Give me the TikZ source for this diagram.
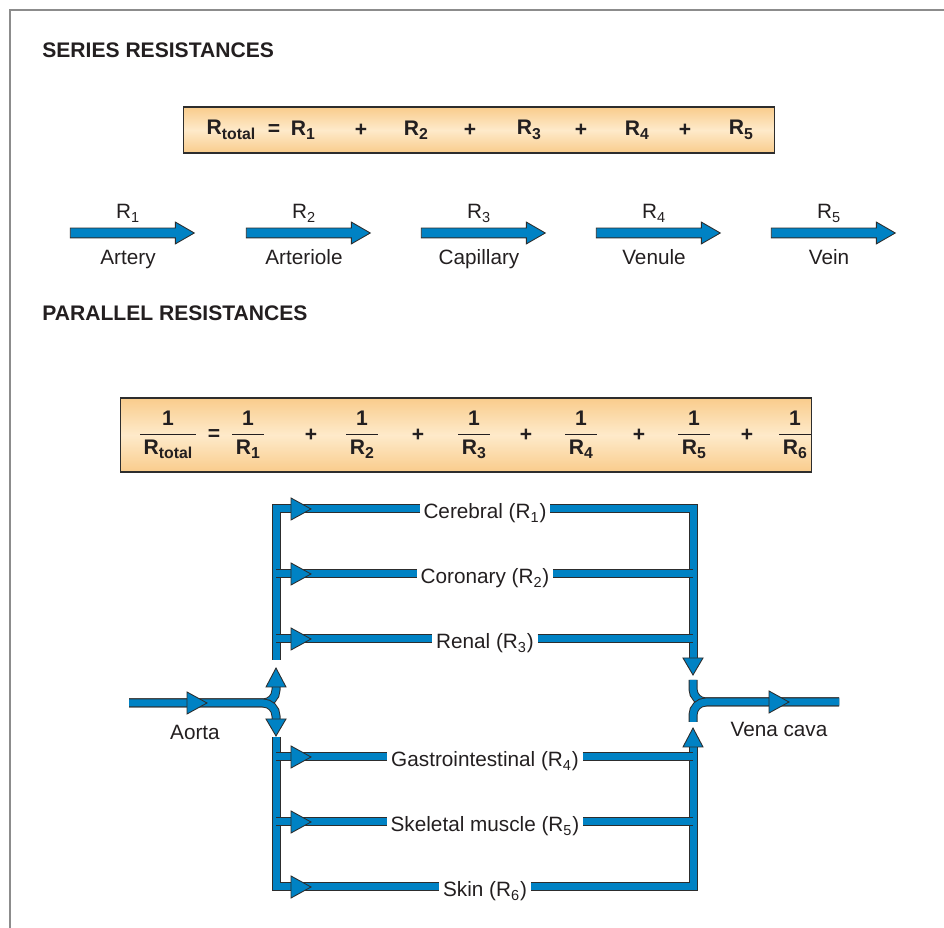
\documentclass[tikz,border=0pt]{standalone}
\usepackage{amsmath}
\usepackage{fontspec}
\setmainfont{Liberation Sans}
\usepackage{tikz}
\usetikzlibrary{shapes.arrows,positioning}
\usepackage{xcolor}
\definecolor{PipeBlue}{RGB}{0,130,196}
\definecolor{PipeEdge}{RGB}{45,45,45}
\definecolor{BoxEdge}{RGB}{249,204,140}
\definecolor{BoxMid}{RGB}{254,234,202}
\definecolor{FrameGray}{RGB}{140,140,140}
\definecolor{InkGray}{RGB}{35,31,32}

\newcommand{\pipe}[1]{\draw[pipeedge] #1; \draw[pipefill] #1;}
\newcommand{\headright}[1]{\filldraw[tipfill] (#1) ++(-10,-11) -- ++(20,11) -- ++(-20,11) -- cycle;}
\newcommand{\headup}[1]{\filldraw[tipfill] (#1) ++(-10,0) -- ++(20,0) -- ++(-10,-19) -- cycle;}
\newcommand{\headdown}[1]{\filldraw[tipfill] (#1) ++(-10,0) -- ++(20,0) -- ++(-10,17) -- cycle;}
\newcommand{\lsub}[1]{\raisebox{-0.4ex}{\fontsize{9}{9}\selectfont #1}}
\newcommand{\inv}[1]{\genfrac{}{}{0.9pt}{0}{\text{1}}{\text{\,#1\,}}}

\tikzset{
  pipeedge/.style={draw=PipeEdge,line width=0.18cm},
  pipefill/.style={draw=PipeBlue,line width=0.14cm},
  tipfill/.style={fill=PipeBlue,draw=PipeEdge,line width=0.5pt},
  flow/.style={single arrow,fill=PipeBlue,draw=PipeEdge,line width=0.5pt,
    minimum height=2.48cm,inner xsep=0pt,inner ysep=0.09cm,
    single arrow head extend=0.12cm,single arrow tip angle=60},
  lbl/.style={font=\fontsize{11.8}{14}\selectfont,text=InkGray,inner sep=0pt},
  organ/.style={lbl,inner xsep=0.07cm,text height=11.3pt,text depth=0pt},
  heading/.style={font={\bfseries\fontsize{12}{14}\selectfont},text=InkGray,anchor=west,inner sep=0pt},
  eqbox/.style={draw=PipeEdge,line width=0.6pt,top color=BoxEdge,bottom color=BoxEdge,middle color=BoxMid},
  eqterm/.style={font={\bfseries\fontsize{12}{14}\selectfont},text=InkGray,inner sep=0pt}
}

\begin{document}
\begin{tikzpicture}[x=0.02cm,y=-0.02cm]
    \useasboundingbox (0,0) rectangle (944,928);
    \draw[FrameGray,line width=1.4pt] (10,928) -- (10,10) -- (944,10);

    % series part
    \node[heading] (serhead) at (42,50) {SERIES RESISTANCES};
    \node[eqbox,minimum width=11.84cm,minimum height=0.92cm] (sumbox) at (479,130) {};
    \foreach \x/\t [count=\i] in {231/R\lsub{total},274/=,303/R\lsub{1},361/+,416/R\lsub{2},470/+,529/R\lsub{3},581/+,637/R\lsub{4},685/+,741/R\lsub{5}}
        \node[eqterm] (sterm\i) at (\x,130) {\t};

    \foreach \x/\n/\t [count=\i] in {128/artery/Artery,304/arteriole/Arteriole,479/capillary/Capillary,654/venule/Venule,829/vein/Vein} {
        \node[flow] (\n) at (\x,233) {};
        \node[lbl,anchor=base] (r\i) at (\x,219) {R\textsubscript{\i}};
        \node[lbl,anchor=base] (\n txt) at (\x,265) {\t};
    }

    % parallel part
    \node[heading] (parhead) at (42,313) {PARALLEL RESISTANCES};
    \node[eqbox,minimum width=13.84cm,minimum height=1.48cm] (invbox) at (466,435) {};
    \foreach \x/\t [count=\i] in {168/$\inv{R\lsub{total}}$,214/=,248/$\inv{R\lsub{1}}$,311/+,362/$\inv{R\lsub{2}}$,418/+,474/$\inv{R\lsub{3}}$,526/+,581/$\inv{R\lsub{4}}$,639/+,694/$\inv{R\lsub{5}}$,747/+,795/$\inv{R\lsub{6}}$}
        \node[eqterm] (pterm\i) at (\x,435) {\t};

    \node[organ] (cereb) at (485,509) {Cerebral (R\textsubscript{1})};
    \node[organ] (coron) at (485,574) {Coronary (R\textsubscript{2})};
    \node[organ] (renal) at (485,639) {Renal (R\textsubscript{3})};
    \node[organ] (gi) at (485,757) {Gastrointestinal (R\textsubscript{4})};
    \node[organ] (skel) at (485,822) {Skeletal muscle (R\textsubscript{5})};
    \node[organ] (skin) at (485,887) {Skin (R\textsubscript{6})};
    \node[lbl] (aorta) at (195,732) {Aorta};
    \node[lbl] (vcava) at (779,729) {Vena cava};

    \coordinate (aortain) at (129,703);
    \coordinate (upend) at (276,687);
    \coordinate (downend) at (276,719);
    \coordinate (lup) at (276,660);
    \coordinate (ldown) at (276,737);
    \coordinate (rdown) at (693,658);
    \coordinate (rup) at (693,747);
    \coordinate (mtop) at (693,680);
    \coordinate (mbot) at (693,722);
    \coordinate (vcout) at (839,702);

    % trunks and branches
    \pipe{(lup) -- (lup |- cereb) -- (cereb.west)}
    \pipe{(lup |- coron) -- (coron.west)}
    \pipe{(lup |- renal) -- (renal.west)}
    \pipe{(cereb.east) -- (rdown |- cereb) -- (rdown)}
    \pipe{(coron.east) -- (rdown |- coron)}
    \pipe{(renal.east) -- (rdown |- renal)}
    \pipe{(ldown) -- (ldown |- skin) -- (skin.west)}
    \pipe{(ldown |- gi) -- (gi.west)}
    \pipe{(ldown |- skel) -- (skel.west)}
    \pipe{(skin.east) -- (rup |- skin) -- (rup)}
    \pipe{(gi.east) -- (rup |- gi)}
    \pipe{(skel.east) -- (rup |- skel)}

    % aorta split and vena cava merge
    \pipe{[rounded corners=0.26cm] (aortain) -- (upend |- aortain) -- (upend)}
    \pipe{[rounded corners=0.26cm] (aortain) -- (downend |- aortain) -- (downend)}
    \pipe{[rounded corners=0.26cm] (mtop) -- (mtop |- vcout) -- (vcout)}
    \pipe{[rounded corners=0.26cm] (mbot) -- (mbot |- vcout) -- (vcout)}

    \foreach \y in {509,574,639,757,822,887} {
        \headright{301,\y}
    }
    \headright{197,703}
    \headright{779,702}
    \headup{upend}
    \headdown{downend}
    \headdown{rdown}
    \headup{rup}
\end{tikzpicture}
\end{document}
